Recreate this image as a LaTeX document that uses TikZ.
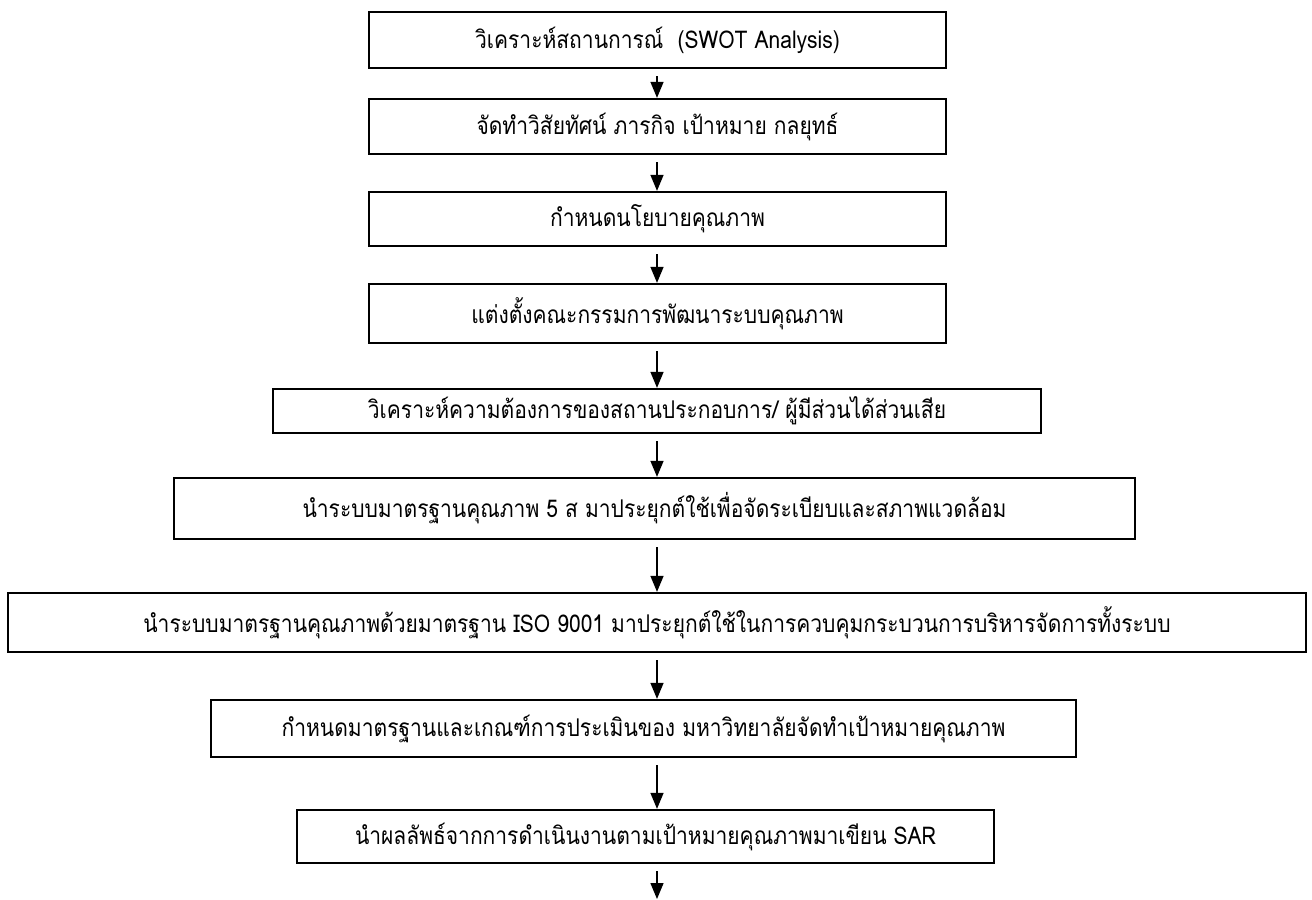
\documentclass[tikz,border=0pt]{standalone}
\usepackage{fontspec}
\setmainfont{Loma}[Script=Thai, FakeStretch=0.86]
\usetikzlibrary{arrows.meta}

\begin{document}
\begin{tikzpicture}[
    box/.style={draw, line width=1.3pt, inner sep=0pt, font=\fontsize{13.9}{16}\selectfont},
    flow/.style={line width=0.8pt, -{Triangle[width=2.6mm,length=3.2mm]}, shorten <=1.4mm}]
    \useasboundingbox (0,0) rectangle (26.24,-17.98);

    \coordinate (axis) at (13.14,0);
    \coordinate (tail) at (13.14,-17.98);

    \node[box, minimum width=11.54cm, minimum height=1.12cm] (swot) at (13.15,-0.80) {วิเคราะห์สถานการณ์~~(SWOT Analysis)};
    \node[box, minimum width=11.54cm, minimum height=1.10cm] (vision) at (13.15,-2.53) {จัดทำวิสัยทัศน์ ภารกิจ เป้าหมาย กลยุทธ์};
    \node[box, minimum width=11.54cm, minimum height=1.08cm] (policy) at (13.15,-4.38) {กำหนดนโยบายคุณภาพ};
    \node[box, minimum width=11.54cm, minimum height=1.18cm] (committee) at (13.15,-6.27) {แต่งตั้งคณะกรรมการพัฒนาระบบคุณภาพ};
    \node[box, minimum width=15.36cm, minimum height=0.88cm] (needs) at (13.14,-8.22) {วิเคราะห์ความต้องการของสถานประกอบการ/ ผู้มีส่วนได้ส่วนเสีย};
    \node[box, minimum width=19.22cm, minimum height=1.22cm] (fives) at (13.09,-10.17) {นำระบบมาตรฐานคุณภาพ 5 ส มาประยุกต์ใช้เพื่อจัดระเบียบและสภาพแวดล้อม};
    \node[box, minimum width=25.96cm, minimum height=1.18cm] (iso) at (13.14,-12.45) {นำระบบมาตรฐานคุณภาพด้วยมาตรฐาน ISO 9001 มาประยุกต์ใช้ในการควบคุมกระบวนการบริหารจัดการทั้งระบบ};
    \node[box, minimum width=17.30cm, minimum height=1.14cm] (criteria) at (12.87,-14.57) {กำหนดมาตรฐานและเกณฑ์การประเมินของ มหาวิทยาลัยจัดทำเป้าหมายคุณภาพ};
    \node[box, minimum width=13.94cm, minimum height=1.06cm] (sar) at (12.91,-16.73) {นำผลลัพธ์จากการดำเนินงานตามเป้าหมายคุณภาพมาเขียน SAR};

    \draw[flow] (swot.south -| axis) -- (vision.north -| axis);
    \draw[flow] (vision.south -| axis) -- (policy.north -| axis);
    \draw[flow] (policy.south -| axis) -- (committee.north -| axis);
    \draw[flow] (committee.south -| axis) -- (needs.north -| axis);
    \draw[flow] (needs.south -| axis) -- (fives.north -| axis);
    \draw[flow] (fives.south -| axis) -- (iso.north -| axis);
    \draw[flow] (iso.south -| axis) -- (criteria.north -| axis);
    \draw[flow] (criteria.south -| axis) -- (sar.north -| axis);
    \draw[flow] (sar.south -| axis) -- (tail);
\end{tikzpicture}
\end{document}
